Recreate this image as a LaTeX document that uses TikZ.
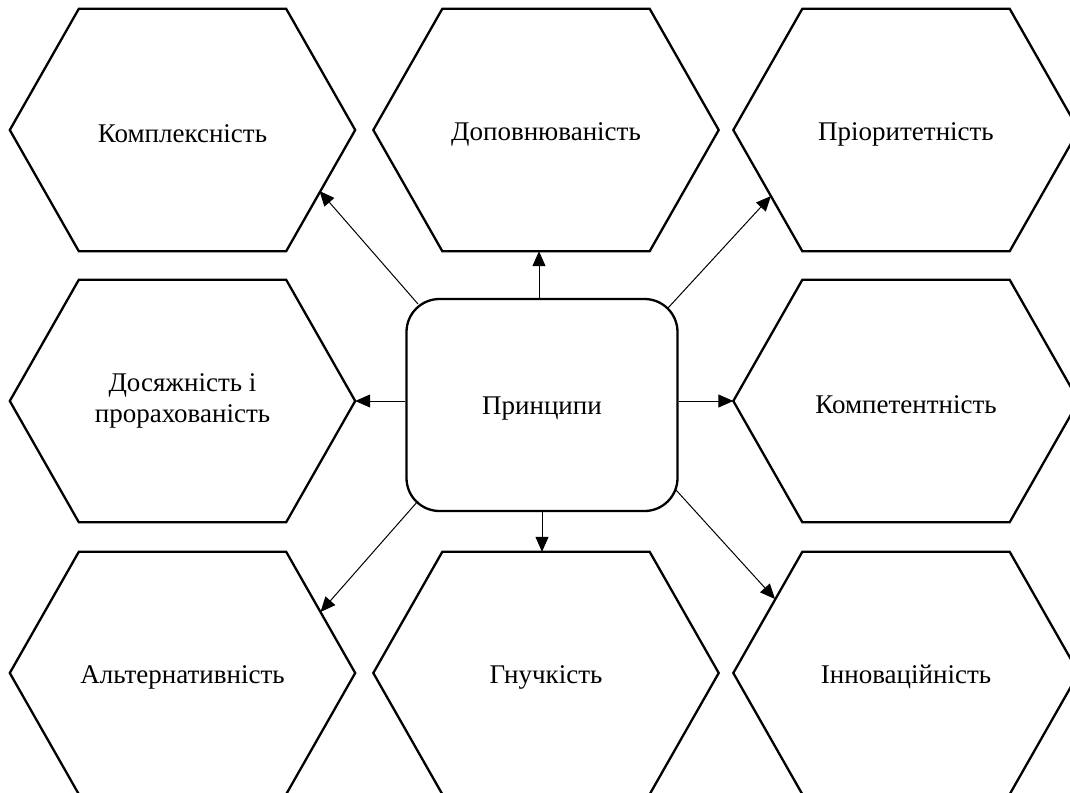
\documentclass[tikz,border=0pt]{standalone}
\usepackage{fontspec}
\setmainfont{Liberation Serif}
\usetikzlibrary{calc,arrows.meta}
\tikzset{
 hexnode/.style={rectangle, minimum width=345pt, minimum height=242pt, inner sep=0pt, align=center, text height=26pt, font=\fontsize{27}{30}\selectfont},
 hexline/.style={draw=black, line width=2.3pt, line join=miter},
 centerbox/.style={draw=black, rectangle, rounded corners=33pt, line width=2.3pt, minimum width=271pt, minimum height=212pt, inner sep=0pt, text height=24pt, font=\fontsize{27}{30}\selectfont},
 conn/.style={-{Triangle[length=15pt,width=13pt]}, line width=1pt},
}
\newcommand{\hexshape}[1]{\draw[hexline] (#1.west) -- ([xshift=69pt]#1.north west) -- ([xshift=-69pt]#1.north east) -- (#1.east) -- ([xshift=-69pt]#1.south east) -- ([xshift=69pt]#1.south west) -- cycle;}
\begin{document}
\begin{tikzpicture}[x=1pt,y=-1pt]
\useasboundingbox (0,0) rectangle (1070,792);
\fill[white] (0,0) rectangle (1070,792);
% hexagon nodes
\node[hexnode] (K) at (182.5,130) {Комплексність};
\node[hexnode] (D) at (546,130) {Доповнюваність};
\node[hexnode] (R) at (906,130) {Пріоритетність};
\node[hexnode, text height={}, font=\fontsize{27}{31}\selectfont] (DP) at (182.5,401) {Досяжність і\\прорахованість};
\node[hexnode] (C) at (906,401) {Компетентність};
\node[hexnode] (A) at (182.5,673) {Альтернативність};
\node[hexnode] (G) at (546,673) {Гнучкість};
\node[hexnode] (I) at (906,673) {Інноваційність};
\foreach \n in {K,D,R,DP,C,A,G,I}{\hexshape{\n}}
% central node
\node[centerbox] (P) at (542,405) {Принципи};
% connectors
\draw[conn] ([xshift=-3pt]P.north) -- ([xshift=-3pt]P.north |- D.south);
\draw[conn] (P.south) -- (P.south |- G.north);
\draw[conn] (P.west |- DP.east) -- (DP.east);
\draw[conn] (P.east |- C.west) -- (C.west);
\draw[conn] ($(P.center)+(-124,-101)$) -- ($(K.center)+(137,61)$);
\draw[conn] ($(P.center)+(126,-97)$) -- ($(R.center)+(-135,66)$);
\draw[conn] ($(P.center)+(-124,96)$) -- ($(A.center)+(138,-61)$);
\draw[conn] ($(P.center)+(134,85)$) -- ($(I.center)+(-131,-74)$);
\end{tikzpicture}
\end{document}
